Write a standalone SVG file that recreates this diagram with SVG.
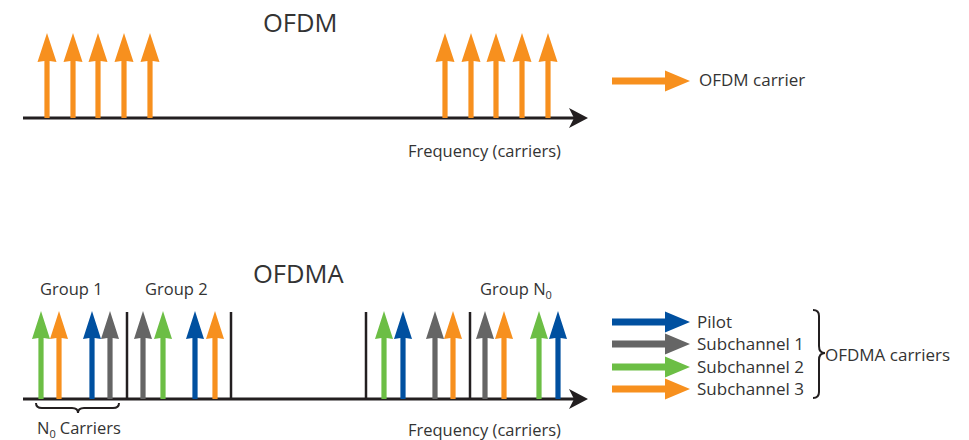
<svg xmlns="http://www.w3.org/2000/svg" xmlns:xlink="http://www.w3.org/1999/xlink" width="969" height="440" viewBox="0 0 969 440">
<style>
text{font-family:"Open Sans","Noto Sans","Liberation Sans",sans-serif;fill:#333333}
.title{font-size:25.5px}
.lbl{font-size:16.5px}
.leg{font-size:17px}
.axis{stroke:#231F20;stroke-width:3;fill:none}
.sep{stroke:#231F20;stroke-width:2.5}
.brace{stroke:#231F20;stroke-width:2;fill:none}
.o{fill:#F7901E}.g{fill:#6CBE45}.b{fill:#0050A0}.k{fill:#656565}
</style>
<defs>
<path id="upT" d="M0,0 L9.5,29 L2.6,28 L2.6,85 L-2.6,85 L-2.6,28 L-9.5,29 Z"/>
<path id="upB" d="M0,0 L9,28 L2.6,27 L2.6,88 L-2.6,88 L-2.6,27 L-9,28 Z"/>
<path id="rt" d="M0,-3.5 L53,-3.5 L53,-10.5 L78,0 L53,10.5 L53,3.5 L0,3.5 Z"/>
</defs>
<g id="ofdm">
<text class="title" x="263" y="32">OFDM</text>
<path class="axis" d="M23,118 L574,118"/>
<path d="M569,108 L588,118 L569,128 L574,118 Z" fill="#231F20"/>
<g id="ofdm-carriers-left">
<use href="#upT" class="o" x="47" y="33"/><use href="#upT" class="o" x="73" y="33"/><use href="#upT" class="o" x="98" y="33"/><use href="#upT" class="o" x="124" y="33"/><use href="#upT" class="o" x="150" y="33"/>
</g>
<g id="ofdm-carriers-right">
<use href="#upT" class="o" x="445" y="33"/><use href="#upT" class="o" x="471" y="33"/><use href="#upT" class="o" x="496" y="33"/><use href="#upT" class="o" x="522" y="33"/><use href="#upT" class="o" x="548" y="33"/>
</g>
<text class="lbl" x="408" y="157">Frequency (carriers)</text>
</g>
<g id="legend-ofdm">
<use href="#rt" class="o" x="612" y="81"/>
<text class="leg" x="699" y="86">OFDM carrier</text>
</g>
<g id="ofdma">
<text class="title" x="253" y="283">OFDMA</text>
<path class="axis" d="M23,399 L574,399"/>
<path d="M569,389 L588,399 L569,409 L574,399 Z" fill="#231F20"/>
<g id="separators">
<line class="sep" x1="127" y1="312" x2="127" y2="399"/>
<line class="sep" x1="231" y1="312" x2="231" y2="399"/>
<line class="sep" x1="366" y1="312" x2="366" y2="399"/>
<line class="sep" x1="470" y1="312" x2="470" y2="399"/>
</g>
<g id="group1">
<text class="lbl" x="40" y="295">Group 1</text>
<use href="#upB" class="g" x="41" y="311"/><use href="#upB" class="o" x="59" y="311"/><use href="#upB" class="b" x="92" y="311"/><use href="#upB" class="k" x="110" y="311"/>
</g>
<g id="group2">
<text class="lbl" x="145" y="295">Group 2</text>
<use href="#upB" class="k" x="143" y="311"/><use href="#upB" class="g" x="163" y="311"/><use href="#upB" class="b" x="195" y="311"/><use href="#upB" class="o" x="215" y="311"/>
</g>
<g id="group3">
<use href="#upB" class="g" x="384" y="311"/><use href="#upB" class="b" x="403" y="311"/><use href="#upB" class="k" x="435" y="311"/><use href="#upB" class="o" x="453" y="311"/>
</g>
<g id="groupN0">
<text class="lbl" x="480" y="295">Group N<tspan font-size="11" dy="4">0</tspan></text>
<use href="#upB" class="k" x="485" y="311"/><use href="#upB" class="o" x="504" y="311"/><use href="#upB" class="g" x="539" y="311"/><use href="#upB" class="b" x="558" y="311"/>
</g>
<g id="n0-carriers">
<path class="brace" d="M36,403 Q36,408 42,408 L72,408 Q78,408 78,413 Q78,408 84,408 L113,408 Q119,408 119,403"/>
<text class="lbl" x="37" y="434">N<tspan font-size="11" dy="4">0</tspan><tspan dy="-4" dx="4">Carriers</tspan></text>
</g>
<text class="lbl" x="408" y="436">Frequency (carriers)</text>
</g>
<g id="legend-ofdma">
<use href="#rt" class="b" x="612" y="322"/>
<use href="#rt" class="k" x="612" y="344"/>
<use href="#rt" class="g" x="612" y="367"/>
<use href="#rt" class="o" x="612" y="389"/>
<text class="leg" x="697" y="328">Pilot</text>
<text class="leg" x="697" y="350">Subchannel 1</text>
<text class="leg" x="697" y="373">Subchannel 2</text>
<text class="leg" x="697" y="395">Subchannel 3</text>
<path class="brace" d="M813,310 Q819,310 819,316 L819,346 Q819,353 825,353 Q819,353 819,360 L819,392 Q819,398 813,398"/>
<text class="leg" x="825" y="361">OFDMA carriers</text>
</g>
</svg>
